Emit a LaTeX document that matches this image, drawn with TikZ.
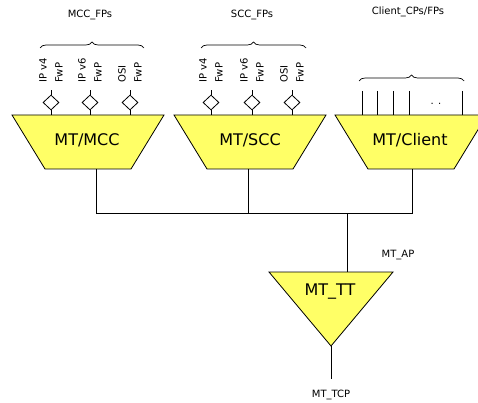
\documentclass[tikz,border=0pt]{standalone}
\usepackage{fontspec}
\setmainfont{DejaVu Sans}
\usetikzlibrary{decorations.pathreplacing, shapes.geometric, positioning}
\definecolor{giallo}{RGB}{255,255,102}
\tikzset{
  blocco/.style={draw=black, line width=0.8pt, fill=giallo, line join=miter},
  filo/.style={draw=black, line width=0.8pt},
  porta/.style={diamond, draw=black, line width=0.8pt, fill=white, inner sep=0pt, minimum width=16pt, minimum height=15pt},
  graffa/.style={draw=black, line width=0.7pt, decorate, decoration={brace, amplitude=6pt}},
  piccolo/.style={font=\fontsize{10}{12}\selectfont, inner sep=1pt},
  grande/.style={font=\fontsize{16}{19}\selectfont, inner sep=1pt},
  verticale/.style={font=\fontsize{10}{16}\selectfont, rotate=90, anchor=west, align=left, inner sep=0pt}
}

\begin{document}
\begin{tikzpicture}[x=1pt, y=-1pt]
\clip (0,0) rectangle (478,403);

% trapezi MT
\draw[blocco] (12,115) -- (164,115) -- (131,169) -- (45,169) -- cycle;
\draw[blocco] (174,115) -- (326,115) -- (293,169) -- (207,169) -- cycle;
\draw[blocco] (335,115) -- (487,115) -- (454,169) -- (368,169) -- cycle;
\node[grande] (mcc) at (87,140) {MT/MCC};
\node[grande] (scc) at (250,140) {MT/SCC};
\node[grande] (cli) at (410,140) {MT/Client};

% triangolo MT_TT
\draw[blocco] (269,272) -- (393,272) -- (331,346) -- cycle;
\node[grande] (tt) at (330,292) {MT\_TT};

% punti di flusso (FP) sopra MCC e SCC
\foreach \x/\nome/\testo in {51/p1/IP v4, 90/p2/IP v6, 130/p3/OSI,
                             211/p4/IP v4, 252/p5/IP v6, 292/p6/OSI}{
  \node[porta] (\nome) at (\x,102.5) {};
  \draw[filo] (\nome.north) -- ++(0,-5);
  \draw[filo] (\nome.south) -- ++(0,5);
  \node[verticale] (\nome-t) at (\x,83) {\testo\\FwP};
}

% punti del client
\foreach \x [count=\i] in {362,377,393,409,462}{
  \coordinate (c\i-a) at (\x,91);
  \coordinate (c\i-b) at (\x,115);
  \draw[filo] (c\i-a) -- (c\i-b);
}
\node[piccolo] (punti) at (436,104) {. .};

% graffe
\draw[graffa] (40,48) -- (144,48);
\draw[graffa] (201,48) -- (306,48);
\draw[graffa] (359,81) -- (464,81);

% etichette
\node[piccolo] (mcc-fp) at (90,15) {MCC\_FPs};
\node[piccolo] (scc-fp) at (252,15) {SCC\_FPs};
\node[piccolo] (cli-fp) at (408,12) {Client\_CPs/FPs};
\node[piccolo] (ap) at (398,255) {MT\_AP};
\node[piccolo] (tcp) at (331,395) {MT\_TCP};

% collegamenti
\coordinate (giu-mcc) at (96,169);
\coordinate (giu-scc) at (248,169);
\coordinate (giu-cli) at (412,169);
\coordinate (bus-mcc) at (96,213);
\coordinate (bus-scc) at (248,213);
\coordinate (bus-cli) at (412,213);
\coordinate (bus-tt) at (347,213);
\coordinate (tt-in) at (347,272);
\coordinate (tt-out) at (331,346);
\coordinate (tcp-fine) at (331,379);
\draw[filo] (giu-mcc) -- (bus-mcc) -- (bus-cli) -- (giu-cli);
\draw[filo] (giu-scc) -- (bus-scc);
\draw[filo] (bus-tt) -- (tt-in);
\draw[filo] (tt-out) -- (tcp-fine);

\end{tikzpicture}
\end{document}
